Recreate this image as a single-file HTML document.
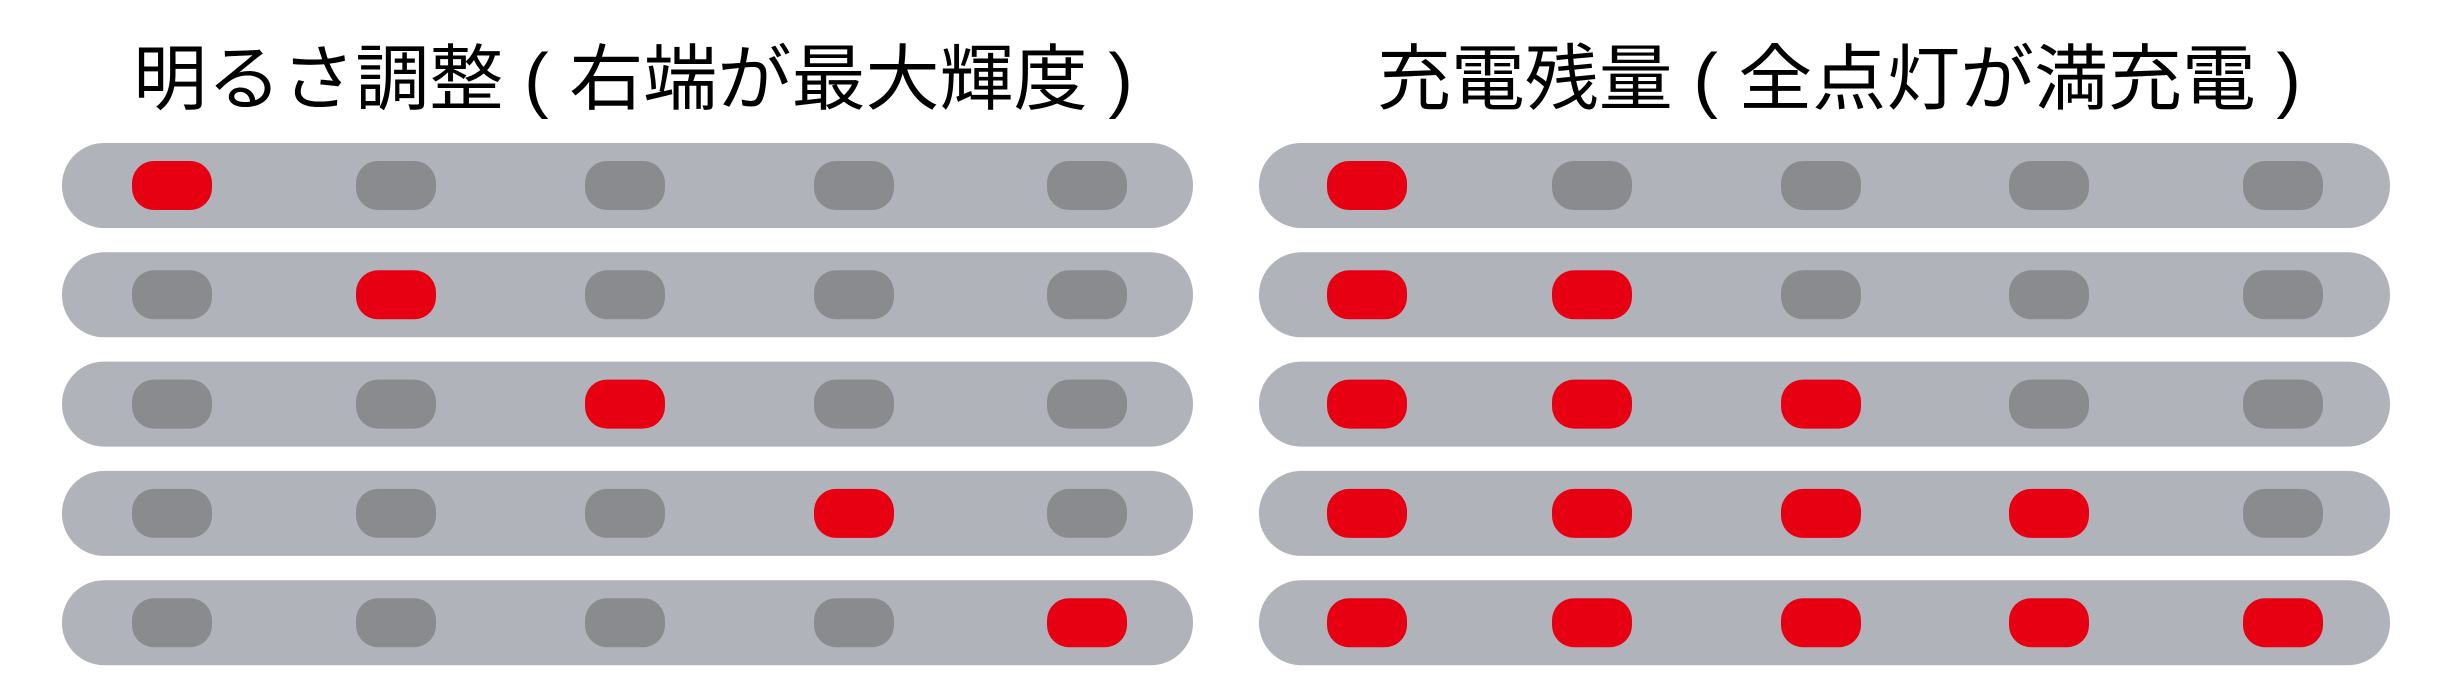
<!DOCTYPE html>
<html><head><meta charset="utf-8"><style>
html,body{margin:0;padding:0;background:#fff;}
svg{display:block}
text{font-family:"Liberation Sans","Noto Sans CJK JP",sans-serif;font-size:72px;fill:#000;}
</style></head><body>
<svg width="2446" height="700" viewBox="0 0 2446 700">
<text x="133" y="104" textLength="1000" lengthAdjust="spacingAndGlyphs">明るさ調整 ( 右端が最大輝度 )</text>
<text x="1377" y="104" textLength="924" lengthAdjust="spacingAndGlyphs">充電残量 ( 全点灯が満充電 )</text>
<g id="bars"></g>
</svg>
<script>
var g=document.getElementById('bars');var ns='http://www.w3.org/2000/svg';
function r(x,y,w,h,rx,c){var e=document.createElementNS(ns,'rect');e.setAttribute('x',x);e.setAttribute('y',y);e.setAttribute('width',w);e.setAttribute('height',h);e.setAttribute('rx',rx);e.setAttribute('fill',c);g.appendChild(e);}
var L=[172,396,625,854,1087],R=[1367,1592,1821,2049,2283];
for(var i=0;i<5;i++){var y=143+i*109.3;
r(62,y,1131,85,42,'#b1b3bb');r(1259,y,1131,85,42,'#b1b3bb');
for(var j=0;j<5;j++){
r(L[j]-40,y+18,80,49,22,j==i?'#e60012':'#8a8b8f');
r(R[j]-40,y+18,80,49,22,j<=i?'#e60012':'#8a8b8f');}}
</script>
</body></html>
